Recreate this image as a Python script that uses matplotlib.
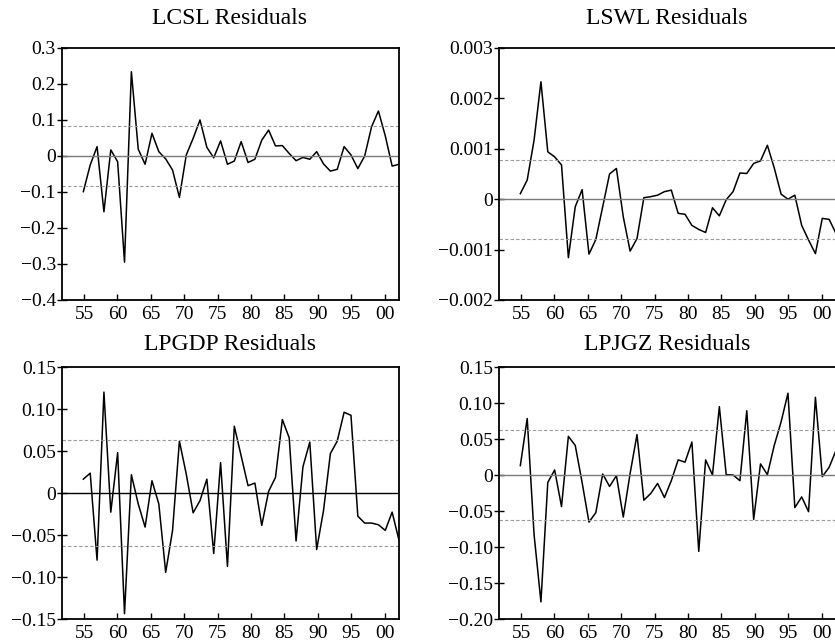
import numpy as np
import matplotlib
matplotlib.use('Agg')
import matplotlib.pyplot as plt

plt.rcParams['font.family'] = ['Liberation Serif', 'DejaVu Serif']

years = np.arange(1955, 2002)
tick_labels = ['55', '60', '65', '70', '75', '80', '85', '90', '95', '00']

# residual series
lcsl = [-0.099, -0.025, 0.026, -0.155, 0.017, -0.016, -0.295, 0.234, 0.019, -0.023,
        0.063, 0.012, -0.008, -0.039, -0.115, 0.003, 0.049, 0.100, 0.024, -0.005,
        0.042, -0.023, -0.014, 0.040, -0.018, -0.009, 0.044, 0.072, 0.028, 0.029,
        0.007, -0.013, -0.004, -0.009, 0.012, -0.022, -0.042, -0.037, 0.026, 0.003,
        -0.035, 0.000, 0.081, 0.125, 0.056, -0.028, -0.023]
lswl = [0.00011, 0.00038, 0.00117, 0.00233, 0.00094, 0.00084, 0.00068, -0.00116, -0.00015, 0.00019,
        -0.00109, -0.00080, -0.00015, 0.00050, 0.00061, -0.00035, -0.00103, -0.00078, 0.00003, 0.00005,
        0.00008, 0.00015, 0.00018, -0.00028, -0.00030, -0.00052, -0.00060, -0.00066, -0.00017, -0.00033,
        -0.00001, 0.00015, 0.00052, 0.00051, 0.00071, 0.00076, 0.00107, 0.00062, 0.00010, 0.00000,
        0.00008, -0.00052, -0.00081, -0.00108, -0.00038, -0.00040, -0.00068]
lpgdp = [0.0165, 0.0236, -0.0799, 0.1201, -0.0228, 0.0480, -0.1437, 0.0217, -0.0130, -0.0406,
         0.0146, -0.0130, -0.0945, -0.0445, 0.0618, 0.0224, -0.0236, -0.0091, 0.0165, -0.0720,
         0.0362, -0.0874, 0.0795, 0.0441, 0.0087, 0.0118, -0.0386, 0.0020, 0.0185, 0.0874,
         0.0657, -0.0571, 0.0311, 0.0606, -0.0673, -0.0209, 0.0469, 0.0618, 0.0961, 0.0925,
         -0.0276, -0.0358, -0.0358, -0.0378, -0.0445, -0.0228, -0.0563]
lpjgz = [0.0131, 0.0785, -0.0827, -0.1762, -0.0103, 0.0070, -0.0439, 0.0537, 0.0411, -0.0103,
         -0.0654, -0.0523, 0.0014, -0.0159, -0.0009, -0.0584, 0.0023, 0.0561, -0.0350, -0.0257,
         -0.0117, -0.0313, -0.0079, 0.0210, 0.0178, 0.0458, -0.1061, 0.0210, 0.0000, 0.0949,
         0.0005, 0.0000, -0.0079, 0.0893, -0.0617, 0.0154, 0.0005, 0.0411, 0.0738, 0.1136,
         -0.0453, -0.0304, -0.0509, 0.1079, -0.0023, 0.0107, 0.0341]

titles = ['LCSL Residuals', 'LSWL Residuals', 'LPGDP Residuals', 'LPJGZ Residuals']
series = [lcsl, lswl, lpgdp, lpjgz]
bands = [0.082, 0.00078, 0.063, 0.062]
ylims = [(-0.4, 0.3), (-0.002, 0.003), (-0.15, 0.15), (-0.20, 0.15)]
yticks = [
    [-0.4, -0.3, -0.2, -0.1, 0, 0.1, 0.2, 0.3],
    [-0.002, -0.001, 0, 0.001, 0.002, 0.003],
    [-0.15, -0.10, -0.05, 0, 0.05, 0.10, 0.15],
    [-0.20, -0.15, -0.10, -0.05, 0, 0.05, 0.10, 0.15],
]
ylabels = [
    ['\u22120.4', '\u22120.3', '\u22120.2', '\u22120.1', '0', '0.1', '0.2', '0.3'],
    ['\u22120.002', '\u22120.001', '0', '0.001', '0.002', '0.003'],
    ['\u22120.15', '\u22120.10', '\u22120.05', '0', '0.05', '0.10', '0.15'],
    ['\u22120.20', '\u22120.15', '\u22120.10', '\u22120.05', '0', '0.05', '0.10', '0.15'],
]
zero_colors = ['#7a7a7a', '#7a7a7a', 'black', '#7a7a7a']

fig = plt.figure(figsize=(8.35, 6.4), dpi=100)
W, H = 835, 640
boxes = [(62, 48), (499, 48), (62, 367), (499, 367)]
aw, ah = 337, 252
title_pos = [(230, 19), (667, 19), (230, 345), (667, 345)]

for i in range(4):
    l, t = boxes[i]
    ax = fig.add_axes([l / W, (H - t - ah) / H, aw / W, ah / H])
    ax.plot(years, series[i], color='black', linewidth=1.1)
    ax.axhline(0, color=zero_colors[i], linewidth=1.0)
    ax.axhline(bands[i], color='#9a9a9a', linewidth=0.8, linestyle=(0, (3, 2)))
    ax.axhline(-bands[i], color='#9a9a9a', linewidth=0.8, linestyle=(0, (3, 2)))
    ax.set_xlim(1951.89, 2001.0)
    ax.set_ylim(*ylims[i])
    ax.set_xticks(np.linspace(1955.1, 1998.9, 10))
    ax.set_xticklabels(tick_labels)
    ax.set_yticks(yticks[i])
    ax.set_yticklabels(ylabels[i])
    ax.tick_params(axis='x', direction='in', length=4, width=1, labelsize=14, pad=4)
    ax.tick_params(axis='y', direction='inout', length=7, width=1, labelsize=14, pad=1)
    for s in ax.spines.values():
        s.set_linewidth(1.3)
    tx, ty = title_pos[i]
    fig.text(tx / W, 1 - ty / H, titles[i], ha='center', va='center', fontsize=17)

plt.savefig('out.png', dpi=100)
